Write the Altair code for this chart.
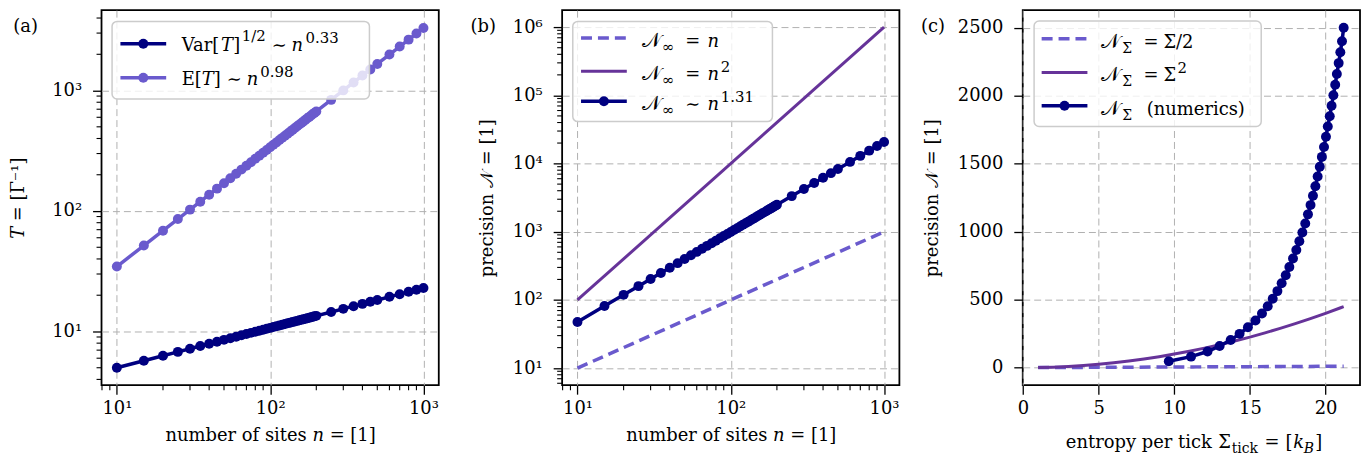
import altair as alt
import pandas as pd

FONT = "DejaVu Serif"
NAVY = "#000080"
SLATE = "#6a5acd"
PURPLE = "#663399"
GRIDC = "#b0b0b0"
W, H = 339, 377
MSIZE = 100
LW = 3.5

# ---------------- data ----------------
sites = [10, 15, 20, 25, 30, 35, 40, 45, 50, 55, 60, 65, 70, 75, 80, 85, 90, 95, 100,
         105, 110, 115, 120, 125, 130, 135, 140, 145, 150, 155, 160, 165, 170, 175, 180,
         185, 190, 195, 200, 250, 300, 350, 400, 450, 500, 600, 700, 800, 900, 1000]
var_T = [5.00, 5.72, 6.29, 6.77, 7.19, 7.57, 7.91, 8.23, 8.52, 8.79, 9.05, 9.29, 9.52,
         9.74, 9.95, 10.15, 10.35, 10.53, 10.71, 10.89, 11.06, 11.22, 11.38, 11.54, 11.69,
         11.83, 11.98, 12.12, 12.25, 12.39, 12.52, 12.65, 12.77, 12.89, 13.02, 13.13, 13.25,
         13.36, 13.48, 14.51, 15.41, 16.22, 16.95, 17.63, 18.25, 19.39, 20.40, 21.33, 22.17,
         22.96]
mean_T = [34.6, 51.7, 68.7, 85.7, 102.7, 119.6, 136.5, 153.4, 170.2, 187.1, 203.9, 220.7,
          237.5, 254.3, 271.1, 287.8, 304.6, 321.3, 338.0, 354.8, 371.5, 388.2, 404.9,
          421.6, 438.3, 454.9, 471.6, 488.3, 505.0, 521.6, 538.3, 554.9, 571.5, 588.2,
          604.8, 621.4, 638.1, 654.7, 671.3, 837, 1003, 1168, 1333, 1498, 1662, 1991, 2319,
          2647, 2974, 3301]
prec_inf = [47.6, 81.3, 118.8, 159.5, 202.9, 248.8, 296.7, 346.6, 398.3, 451.7, 506.8,
            563.2, 621.1, 680.3, 740.7, 802.5, 865.4, 929.4, 994.5, 1060.7, 1127.8, 1195.9,
            1265.2, 1335.1, 1406.1, 1478.0, 1550.7, 1624.1, 1698.7, 1773.7, 1849.6, 1926.4,
            2003.6, 2081.9, 2160.8, 2240.4, 2320.5, 2401.5, 2483.1, 3333, 4241, 5198, 6198,
            7240, 8320, 10586, 12976, 15480, 18083, 20792]
lin_n = [10, 1000]
lin_prec = [10, 1000]
sq_n = [10, 1000]
sq_prec = [100, 1000000]

entropy_c = [9.64, 11.11, 12.20, 13.00, 13.73, 14.32, 14.87, 15.37, 15.80, 16.18, 16.51,
             16.82, 17.10, 17.37, 17.61, 17.85, 18.07, 18.27, 18.47, 18.66, 18.84, 19.01,
             19.17, 19.33, 19.48, 19.62, 19.76, 19.90, 20.03, 20.15, 20.28, 20.40, 20.52,
             20.64, 20.75, 20.87, 20.98, 21.09, 21.20]
prec_c = prec_inf[:38] + [2500]
half_sigma = [1, 21.2]
half_prec = [0.5, 10.6]
sq_sigma = [1, 2, 3, 4, 5, 6, 7, 8, 9, 10, 11, 12, 13, 14, 15, 16, 17, 18, 19, 20, 21, 21.2]
sq_sigma_prec = [1, 4, 9, 16, 25, 36, 49, 64, 81, 100, 121, 144, 169, 196, 225, 256, 289,
                 324, 361, 400, 441, 449.4]

minor_x = [8, 9, 20, 30, 40, 50, 60, 70, 80, 90, 200, 300, 400, 500, 600, 700, 800, 900]
minor_ya = [4, 5, 6, 7, 8, 9, 20, 30, 40, 50, 60, 70, 80, 90, 200, 300, 400, 500, 600,
            700, 800, 900, 2000, 3000, 4000]
minor_yb = [6, 7, 8, 9] + [m * 10 ** e for e in range(1, 6) for m in range(2, 10)]

ONE = pd.DataFrame({"k": [0]})
SUP = "'10' + ['⁰','¹','²','³','⁴','⁵','⁶','⁷'][round(log(datum.value)/LN10)]"

xs_log = alt.Scale(type="log", domain=[7.943, 1258.9], nice=False)
ys_a = alt.Scale(type="log", domain=[3.58, 4650], nice=False)
ys_b = alt.Scale(type="log", domain=[5.62, 1.778e6], nice=False)
xs_c = alt.Scale(domain=[-0.015, 22.28], nice=False, zero=False)
ys_c = alt.Scale(domain=[-129, 2630], nice=False, zero=False)

xax_log = alt.Axis(values=[10, 100, 1000], labelExpr=SUP, title="number of sites 𝑛 = [1]")
yax_a = alt.Axis(values=[10, 100, 1000], labelExpr=SUP, title="𝑇 = [Γ⁻¹]", titlePadding=24)
yax_b = alt.Axis(values=[10, 100, 1000, 1e4, 1e5, 1e6], labelExpr=SUP, title="precision 𝒩 = [1]")
xax_c = alt.Axis(values=[0, 5, 10, 15, 20], title=None, format="d")
yax_c = alt.Axis(values=[0, 500, 1000, 1500, 2000, 2500], format="d", title="precision 𝒩 = [1]")


def txt(x, y, s, size=18, style="normal", align="left"):
    return alt.Chart(ONE).mark_text(text=s, font=FONT, fontSize=size, fontStyle=style,
                                    align=align, baseline="alphabetic", color="black"
                                    ).encode(x=alt.value(x), y=alt.value(y))


def box(x0, x1, y0, y1):
    return alt.Chart(ONE).mark_rect(fill="white", fillOpacity=0.8, stroke="#cccccc",
                                    strokeWidth=1.5, cornerRadius=5
                                    ).encode(x=alt.value(x0), x2=alt.value(x1),
                                             y=alt.value(y0), y2=alt.value(y1))


def sample(cy, color, dash=None, marker=False, width=LW):
    kw = dict(color=color, strokeWidth=width)
    if dash:
        kw["strokeDash"] = dash
    layers = [alt.Chart(ONE).mark_rule(**kw).encode(x=alt.value(19), x2=alt.value(65),
                                                    y=alt.value(cy))]
    if marker:
        layers.append(alt.Chart(ONE).mark_circle(size=MSIZE, color=color, opacity=1)
                      .encode(x=alt.value(42), y=alt.value(cy)))
    return layers


def minor_x_rules(scale, axis):
    return alt.Chart(pd.DataFrame({"v": minor_x})).mark_rule(color="black", strokeWidth=1.1).encode(
        x=alt.X("v:Q", scale=scale, axis=axis), y=alt.value(H), y2=alt.value(H + 5))


def minor_y_rules(vals, scale, axis):
    return alt.Chart(pd.DataFrame({"v": vals})).mark_rule(color="black", strokeWidth=1.1).encode(
        y=alt.Y("v:Q", scale=scale, axis=axis), x=alt.value(0), x2=alt.value(-5))


def series(df, xf, yf, xsc, ysc, color, xaxis, yaxis, marker=True, dash=None, width=LW):
    enc = dict(x=alt.X(f"{xf}:Q", scale=xsc, axis=xaxis), y=alt.Y(f"{yf}:Q", scale=ysc, axis=yaxis))
    kw = dict(color=color, strokeWidth=width)
    if dash:
        kw["strokeDash"] = dash
    layers = [alt.Chart(df).mark_line(**kw).encode(**enc)]
    if marker:
        layers.append(alt.Chart(df).mark_circle(size=MSIZE, color=color, opacity=1).encode(**enc))
    return layers


# ---------------- panel (a) ----------------
dfa = pd.DataFrame({"n": sites, "var": var_T, "mean": mean_T})
la = []
la += series(dfa, "n", "var", xs_log, ys_a, NAVY, xax_log, yax_a)
la += series(dfa, "n", "mean", xs_log, ys_a, SLATE, xax_log, yax_a)
la += [minor_x_rules(xs_log, xax_log), minor_y_rules(minor_ya, ys_a, yax_a)]
la += [box(10.6, 269.3, 11.3, 89.3)]
la += sample(33.7, NAVY, marker=True) + sample(68, SLATE, marker=True)
r1 = 40.8
la += [txt(80.6, r1, "Var["), txt(120, r1, "T", style="italic"), txt(132.5, r1, "]"),
       txt(141, r1 - 10, "1/2", size=15), txt(171, r1, "∼"), txt(191, r1, "n", style="italic"),
       txt(205, r1 - 8, "0.33", size=15)]
r2 = 75.5
la += [txt(80.6, r2, "E["), txt(100.8, r2, "T", style="italic"), txt(112.8, r2, "]"),
       txt(126, r2, "∼"), txt(146, r2, "n", style="italic"), txt(159.5, r2 - 8, "0.98", size=15)]
la += [txt(-88.7, 21.5, "(a)")]
pa = alt.layer(*la).properties(width=W, height=H)

# ---------------- panel (b) ----------------
dfb = pd.DataFrame({"n": sites, "p": prec_inf})
dfl = pd.DataFrame({"n": lin_n, "p": lin_prec})
dfs = pd.DataFrame({"n": sq_n, "p": sq_prec})
lb = []
lb += series(dfl, "n", "p", xs_log, ys_b, SLATE, xax_log, yax_b, marker=False, dash=[11, 6])
lb += series(dfs, "n", "p", xs_log, ys_b, PURPLE, xax_log, yax_b, marker=False, width=3)
lb += series(dfb, "n", "p", xs_log, ys_b, NAVY, xax_log, yax_b)
lb += [minor_x_rules(xs_log, xax_log), minor_y_rules(minor_yb, ys_b, yax_b)]
lb += [box(10.7, 211.4, 11.3, 112)]
lb += sample(28, SLATE, dash=[11, 6]) + sample(61.3, PURPLE, width=3) + sample(91.5, NAVY, marker=True)
for cy, rel, sup in [(28, "=", None), (61.3, "=", "2"), (91.5, "∼", "1.31")]:
    b = cy + 9
    lb += [txt(80, b, "𝒩", size=20), txt(100.5, b + 5, "∞", size=15), txt(123.7, b, rel),
           txt(146, b, "n", style="italic")]
    if sup:
        lb += [txt(159.5, b - 8, sup, size=15)]
lb += [txt(-92, 21.5, "(b)")]
pb = alt.layer(*lb).properties(width=W, height=H)

# ---------------- panel (c) ----------------
dfc = pd.DataFrame({"s": entropy_c, "p": prec_c})
dfh = pd.DataFrame({"s": half_sigma, "p": half_prec})
dfq = pd.DataFrame({"s": sq_sigma, "p": sq_sigma_prec})
lc = []
lc += series(dfh, "s", "p", xs_c, ys_c, SLATE, xax_c, yax_c, marker=False, dash=[11, 6])
lc += series(dfq, "s", "p", xs_c, ys_c, PURPLE, xax_c, yax_c, marker=False, width=3)
lc += series(dfc, "s", "p", xs_c, ys_c, NAVY, xax_c, yax_c)
lc += [box(11.4, 239.7, 11, 117)]
lc += sample(28.7, SLATE, dash=[11, 6]) + sample(62.7, PURPLE, width=3) + sample(96, NAVY, marker=True)
b1, b2, b3 = 37.7, 71.7, 105
for b in (b1, b2, b3):
    lc += [txt(79, b, "𝒩", size=20), txt(100, b + 5, "Σ", size=14)]
lc += [txt(121.4, b1, "="), txt(141.4, b1, "Σ/2")]
lc += [txt(121.4, b2, "="), txt(141.4, b2, "Σ"), txt(155.5, b2 - 9, "2", size=15)]
lc += [txt(124.7, b3, "(numerics)")]
tb = 440.3
lc += [txt(190, tb, "entropy per tick", align="right"), txt(196.4, tb, "Σ"),
       txt(210, tb + 5, "tick", size=14), txt(243, tb, "="), txt(264, tb, "["),
       txt(272, tb, "k", style="italic"), txt(282.5, tb + 5, "B", size=14, style="italic"),
       txt(294, tb, "]")]
lc += [txt(-102.3, 21.5, "(c)")]
pc = alt.layer(*lc).properties(width=W, height=H)

chart = alt.hconcat(pa, pb, pc, spacing=124, bounds="flush").properties(
    padding={"left": 0, "top": 0, "right": 0, "bottom": 0}
).configure_view(stroke="black", strokeWidth=1.8).configure_axis(
    labelFont=FONT, labelFontSize=18, titleFont=FONT, titleFontSize=18, titleFontWeight="normal",
    labelColor="black", titleColor="black", tickColor="black", tickSize=9, tickWidth=1.3,
    domain=False, gridColor=GRIDC, gridDash=[7, 4], gridWidth=1, labelFlush=False,
    labelOverlap=False
).configure_axisX(labelPadding=5, titlePadding=10).configure_axisY(labelPadding=11, titlePadding=16)

chart.save("out.html", embed_options={"renderer": "svg", "actions": False})
